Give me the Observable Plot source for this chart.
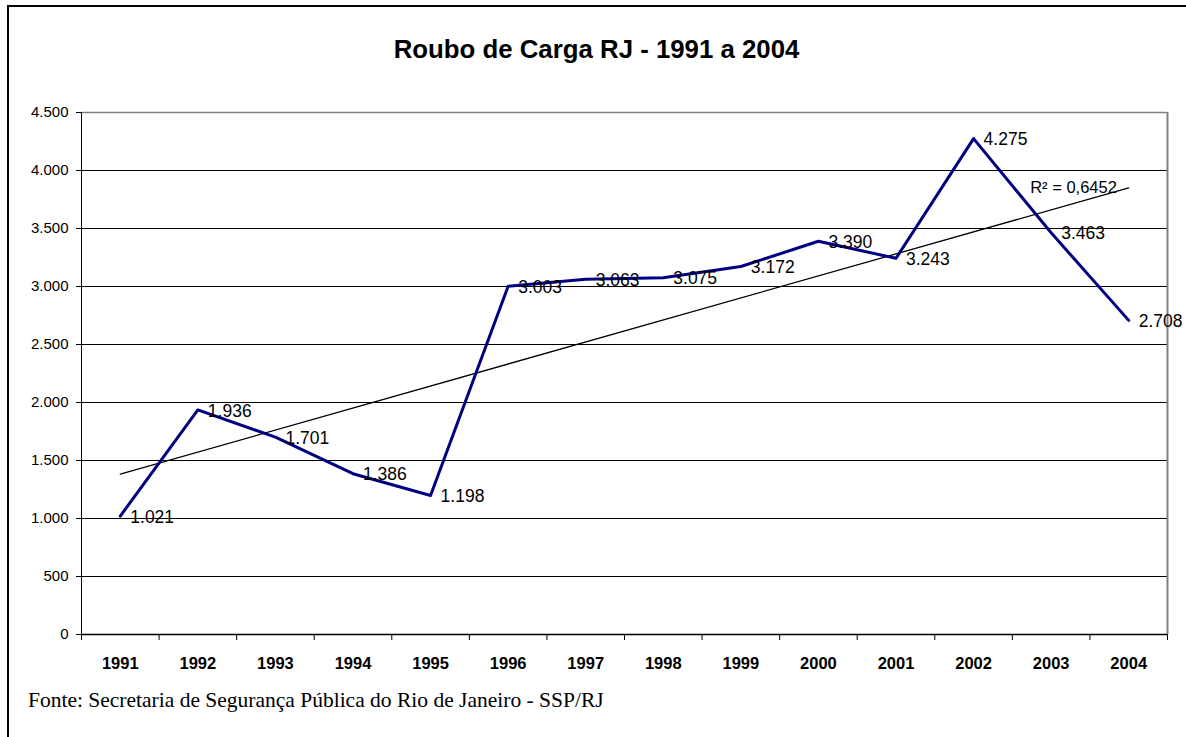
<!DOCTYPE html>
<html>
<head>
<meta charset="utf-8">
<script src="https://cdn.jsdelivr.net/npm/d3@7"></script>
<script src="https://cdn.jsdelivr.net/npm/@observablehq/plot@0.6"></script>
<style>
  html, body { margin: 0; padding: 0; background: #fff; }
  #wrap { position: relative; width: 1186px; height: 737px; overflow: hidden; }
  #frame { position: absolute; left: 7px; top: 5px; width: 1300px; height: 900px;
           border-left: 2.5px solid #000; border-top: 2.5px solid #000; }
  #title { position: absolute; left: 0; top: 37px; width: 1193px; text-align: center;
           font: bold 25.8px "Liberation Sans", Arial, sans-serif; line-height: 25px; color: #000; }
  #caption { position: absolute; left: 28px; top: 690px; white-space: nowrap;
             font: 21.5px "Liberation Serif", "Times New Roman", serif; line-height: 21.5px; color: #000; }
  #chart { position: absolute; left: 0; top: 0; }
</style>
</head>
<body>
<div id="wrap">
  <div id="frame"></div>
  <div id="chart"></div>
  <div id="title">Roubo de Carga RJ - 1991 a 2004</div>
  <div id="caption">Fonte: Secretaria de Segurança Pública do Rio de Janeiro - SSP/RJ</div>
</div>
<script>
const years = [1991, 1992, 1993, 1994, 1995, 1996, 1997, 1998, 1999, 2000, 2001, 2002, 2003, 2004];
const values = [1021, 1936, 1701, 1386, 1198, 3003, 3063, 3075, 3172, 3390, 3243, 4275, 3463, 2708];
const yTicks = [0, 500, 1000, 1500, 2000, 2500, 3000, 3500, 4000, 4500];
const r2Text = ["R² = 0,6452"];
const r2Pos = [{year: 2002.73, value: 3853}];

const data = years.map((year, i) => ({year, value: values[i]}));
const loc = d3.formatLocale({decimal: ",", thousands: ".", grouping: [3], currency: ["", ""]});
const fmt = loc.format(",d");
const bounds = [...years.map(y => y - 0.5), years[years.length - 1] + 0.5];

const chart = Plot.plot({
  width: 1186,
  height: 737,
  marginLeft: 81,
  marginRight: 19,
  marginTop: 112,
  marginBottom: 103,
  style: {fontFamily: '"Liberation Sans", Arial, sans-serif', background: "transparent", color: "#000"},
  x: {type: "linear", domain: [bounds[0], bounds[bounds.length - 1]]},
  y: {domain: [0, 4500]},
  marks: [
    Plot.ruleY(yTicks.slice(1, -1), {stroke: "#000", strokeWidth: 1}),
    Plot.ruleY([4500], {stroke: "#808080", strokeWidth: 1.5}),
    Plot.ruleX([bounds[bounds.length - 1]], {y1: 0, y2: 4500, stroke: "#808080", strokeWidth: 2}),
    Plot.ruleX([bounds[0]], {y1: 0, y2: 4500, stroke: "#000", strokeWidth: 1}),
    Plot.ruleY([0], {stroke: "#000", strokeWidth: 1.5}),
    Plot.axisY({ticks: yTicks, tickSize: 5, tickPadding: 8, tickFormat: fmt, fontSize: 15, label: null, stroke: "#000"}),
    Plot.axisX({ticks: bounds, tickSize: 6, tickFormat: () => "", label: null, stroke: "#000"}),
    Plot.axisX({ticks: years, tickSize: 0, tickPadding: 23, tickFormat: d => String(d), fontSize: 16.5, fontWeight: "bold", label: null}),
    Plot.linearRegressionY(data, {x: "year", y: "value", ci: 0, stroke: "#000", strokeWidth: 1.3}),
    Plot.line(data, {x: "year", y: "value", stroke: "#000080", strokeWidth: 3, strokeLinejoin: "round"}),
    Plot.text(data, {x: "year", y: "value", text: d => fmt(d.value), textAnchor: "start", lineAnchor: "middle", dx: 10, dy: 1, fontSize: 17.5, fill: "#000"}),
    Plot.text(r2Pos, {x: "year", y: "value", text: () => r2Text[0], textAnchor: "start", lineAnchor: "middle", fontSize: 16.5, fill: "#000"})
  ]
});
document.getElementById("chart").appendChild(chart);
</script>
</body>
</html>
